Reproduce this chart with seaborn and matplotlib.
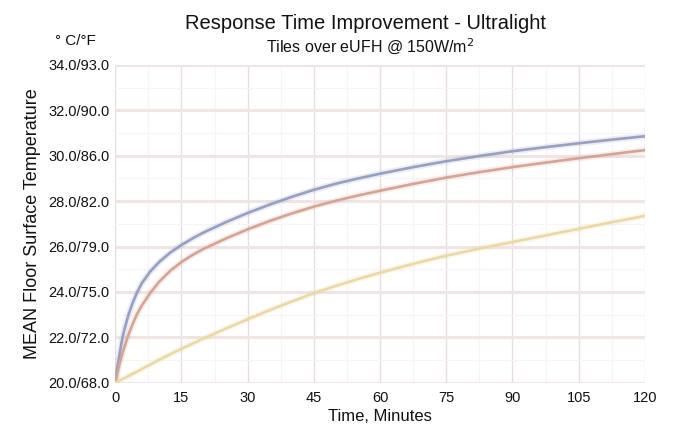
import matplotlib
matplotlib.use("Agg")
import matplotlib.pyplot as plt
import seaborn as sns
import pandas as pd
from matplotlib.ticker import MultipleLocator

# ---- data ----
time_pts = [0, 0.5, 1, 1.5, 2, 3, 4, 5, 6, 8, 10, 12.5, 15, 17.5, 20, 25, 30, 35, 40, 45, 50, 55,
            60, 67.5, 75, 82.5, 90, 97.5, 105, 112.5, 120]
temp_blue = [20.0, 20.7, 21.3, 21.85, 22.3, 23.0, 23.55, 24.0, 24.38, 24.92, 25.33, 25.74, 26.07,
             26.36, 26.62, 27.07, 27.48, 27.85, 28.19, 28.5, 28.77, 29.0, 29.21, 29.5, 29.76, 29.99,
             30.2, 30.38, 30.55, 30.71, 30.86]
temp_red = [20.0, 20.45, 20.85, 21.2, 21.53, 22.12, 22.62, 23.05, 23.4, 23.98, 24.46, 24.94, 25.32,
            25.63, 25.9, 26.35, 26.76, 27.13, 27.46, 27.76, 28.02, 28.25, 28.46, 28.76, 29.04, 29.28,
            29.5, 29.7, 29.89, 30.07, 30.25]
time_yellow = [0, 2, 5, 10, 15, 20, 25, 30, 35, 40, 45, 50, 55, 60, 67.5, 75, 82.5, 90, 97.5, 105,
               112.5, 120]
temp_yellow = [20.0, 20.2, 20.5, 21.02, 21.5, 21.95, 22.38, 22.8, 23.2, 23.58, 23.95, 24.27, 24.57,
               24.85, 25.24, 25.6, 25.91, 26.2, 26.49, 26.78, 27.07, 27.35]

x_ticks = [0, 15, 30, 45, 60, 75, 90, 105, 120]
y_ticks = [20, 22, 24, 26, 28, 30, 32, 34]
y_tick_labels = ["20.0/68.0", "22.0/72.0", "24.0/75.0", "26.0/79.0",
                 "28.0/82.0", "30.0/86.0", "32.0/90.0", "34.0/93.0"]

series_names = ["blue", "red", "yellow"]
colors = {"blue": "#979fc2", "red": "#d6a494", "yellow": "#ebd8a2"}

df = pd.concat([
    pd.DataFrame({"Time": time_pts, "Temp": temp_blue, "Series": "blue"}),
    pd.DataFrame({"Time": time_pts, "Temp": temp_red, "Series": "red"}),
    pd.DataFrame({"Time": time_yellow, "Temp": temp_yellow, "Series": "yellow"}),
])

sns.set_theme(style="white")
plt.rcParams["font.family"] = ["Liberation Sans", "DejaVu Sans"]

fig = plt.figure(figsize=(6.86, 4.36), dpi=100)
ax = fig.add_axes([0.168, 0.122, 0.772, 0.729])

# soft glow under lines
sns.lineplot(data=df, x="Time", y="Temp", hue="Series", palette=colors, hue_order=series_names,
             linewidth=4.5, alpha=0.18, legend=False, ax=ax, estimator=None, sort=True)
sns.lineplot(data=df, x="Time", y="Temp", hue="Series", palette=colors, hue_order=series_names,
             linewidth=1.9, legend=False, ax=ax, estimator=None, sort=True)

ax.set_xlim(0, 120)
ax.set_ylim(20, 34)
ax.set_xticks(x_ticks)
ax.set_xticklabels([str(t) for t in x_ticks])
ax.set_yticks(y_ticks)
ax.set_yticklabels(y_tick_labels)
ax.xaxis.set_minor_locator(MultipleLocator(7.5))
ax.yaxis.set_minor_locator(MultipleLocator(1))

ax.grid(True, which="major", axis="y", color="#efe5e5", linewidth=2.2)
ax.grid(True, which="major", axis="x", color="#e6dddd", linewidth=1.0)
ax.grid(True, which="minor", color="#f7f4f4", linewidth=0.8)
ax.set_axisbelow(True)
for s in ax.spines.values():
    s.set_visible(False)
ax.tick_params(axis="both", which="both", length=0)
ax.tick_params(axis="x", labelsize=10.5, pad=6, colors="#111111")
ax.tick_params(axis="y", labelsize=10.5, pad=4, colors="#111111")

ax.set_xlabel("Time, Minutes", fontsize=12, color="#111111", labelpad=3)
ax.set_ylabel("MEAN Floor Surface Temperature", fontsize=13, color="#111111", labelpad=5)

fig.text(0.533, 0.947, "Response Time Improvement - Ultralight", ha="center", va="center",
         fontsize=14.5, color="#111111")
fig.text(0.54, 0.895, "Tiles over eUFH @ 150W/m$^2$", ha="center", va="center",
         fontsize=11.5, color="#111111")
fig.text(0.11, 0.905, "° C/°F", ha="center", va="center", fontsize=11, color="#111111")

fig.savefig("out.png", dpi=100, facecolor="white")
